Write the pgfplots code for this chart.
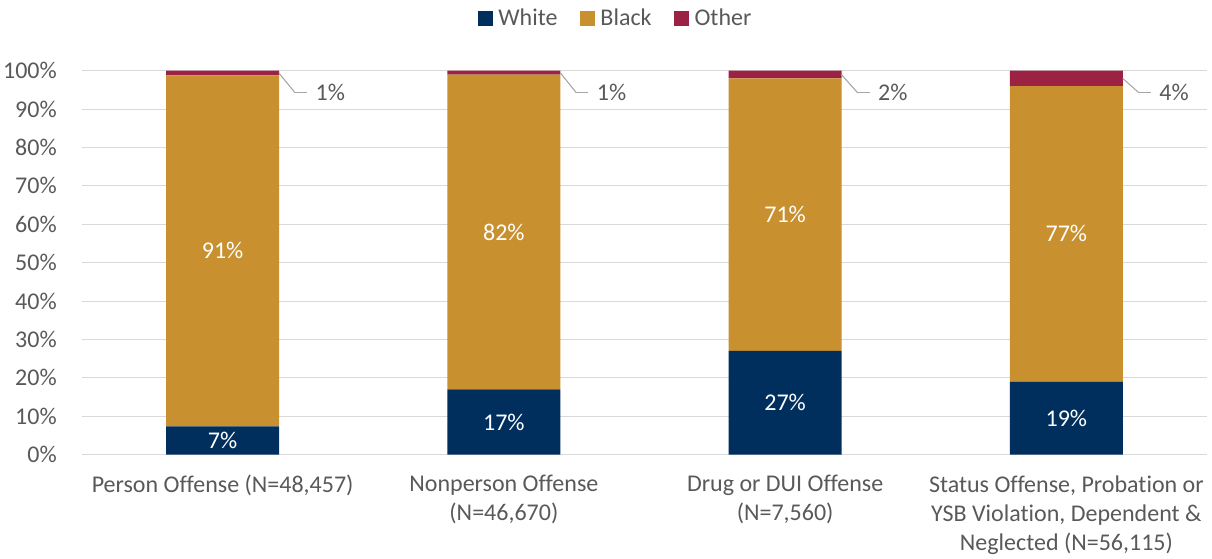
\documentclass[border=0pt]{standalone}
\usepackage{pgfplots}
\pgfplotsset{compat=1.18}
\usepackage{pgfplotstable}
\usepackage{fontspec}
\setmainfont{Carlito}[Ligatures=NoCommon]

\definecolor{cWhite}{RGB}{0,46,93}
\definecolor{cBlack}{RGB}{200,144,46}
\definecolor{cOther}{RGB}{155,34,66}
\definecolor{txt}{RGB}{89,89,89}
\definecolor{gridc}{RGB}{217,217,217}
\definecolor{leader}{RGB}{166,166,166}

% share of each offense group by race (percent)
\pgfplotstableread{
x white black other
0 7.4 91.4 1.2
1 17  82   1
2 27  71   2
3 19  77   4
}\shares

\newcommand{\lblfont}{\fontsize{18}{21.75}\selectfont}

\pgfplotsset{
  base/.style={
    scale only axis, width=843.75pt, height=288pt,
    at={(0,0)}, anchor=south west,
    xmin=-0.5, xmax=3.5, ymin=0, ymax=100,
    /pgf/number format/assume math mode=true,
  },
  pct/.style={
    nodes near coords={\pgfmathprintnumber[fixed,precision=0]{\pgfplotspointmeta}\%},
    point meta=explicit,
  },
}

\begin{document}
\begin{tikzpicture}
\begin{axis}[base,
  ybar stacked, bar width=84.75pt,
  axis x line*=bottom, axis y line*=left,
  x axis line style={draw=none}, y axis line style={draw=none},
  major tick length=0pt, tick style={draw=none},
  ymajorgrids, grid style={gridc, line width=0.8pt},
  ytick={0,10,...,100},
  yticklabel={\pgfmathprintnumber{\tick}\%},
  yticklabel style={text=txt, font=\lblfont, inner xsep=0pt, xshift=-18.75pt},
  xtick={0,1,2,3},
  xticklabels={
    {Person Offense (N=48,457)},
    {Nonperson Offense\\(N=46,670)},
    {Drug or DUI Offense\\(N=7,560)},
    {Status Offense, Probation or\\YSB Violation, Dependent \&\\Neglected (N=56,115)}},
  xticklabel style={text=txt, font=\lblfont, align=center, anchor=north, yshift=-12pt},
  legend style={at={(0.4747,1.137)}, anchor=center, draw=none, fill=none,
    legend columns=-1, font=\lblfont, text=txt,
    /tikz/every odd column/.append style={column sep=2pt},
    /tikz/every even column/.append style={column sep=15pt}},
  legend image code/.code={\fill[#1] (0pt,-5.6pt) rectangle (11.25pt,5.6pt);},
]
\addplot[fill=cWhite, draw=none] table[x=x, y=white] {\shares};
\addplot[fill=cBlack, draw=none] table[x=x, y=black] {\shares};
\addplot[fill=cOther, draw=none] table[x=x, y=other] {\shares};
\legend{White, Black, Other}
\end{axis}

\begin{axis}[base, hide axis, clip=false]
% labels centred in the White and Black segments
\addplot[draw=none, mark=none, pct,
  nodes near coords style={anchor=center, text=white, font=\lblfont}]
  table[x=x, y expr=\thisrow{white}/2, meta=white] {\shares};
\addplot[draw=none, mark=none, pct,
  nodes near coords style={anchor=center, text=white, font=\lblfont}]
  table[x=x, y expr=\thisrow{white}+\thisrow{black}/2, meta=black] {\shares};
% leader lines from the Other segment to its label
\addplot[leader, line width=0.8pt, mark=none,
  quiver={u={0.057}, v={\thisrow{other}/2-5.7}}]
  table[x expr=\thisrow{x}+0.2, y expr=100-\thisrow{other}/2] {\shares};
\addplot[leader, line width=0.8pt, mark=none,
  quiver={u={0.043}, v={0}}]
  table[x expr=\thisrow{x}+0.257, y expr=94.3] {\shares};
\addplot[draw=none, mark=none, pct,
  nodes near coords style={anchor=west, inner xsep=0pt, text=txt, font=\lblfont}]
  table[x expr=\thisrow{x}+0.33, y expr=94.3, meta=other] {\shares};
\end{axis}

\pgfresetboundingbox
\path[use as bounding box] (-61.5pt,-77.8pt) rectangle (847.5pt,341pt);
\end{tikzpicture}
\end{document}
